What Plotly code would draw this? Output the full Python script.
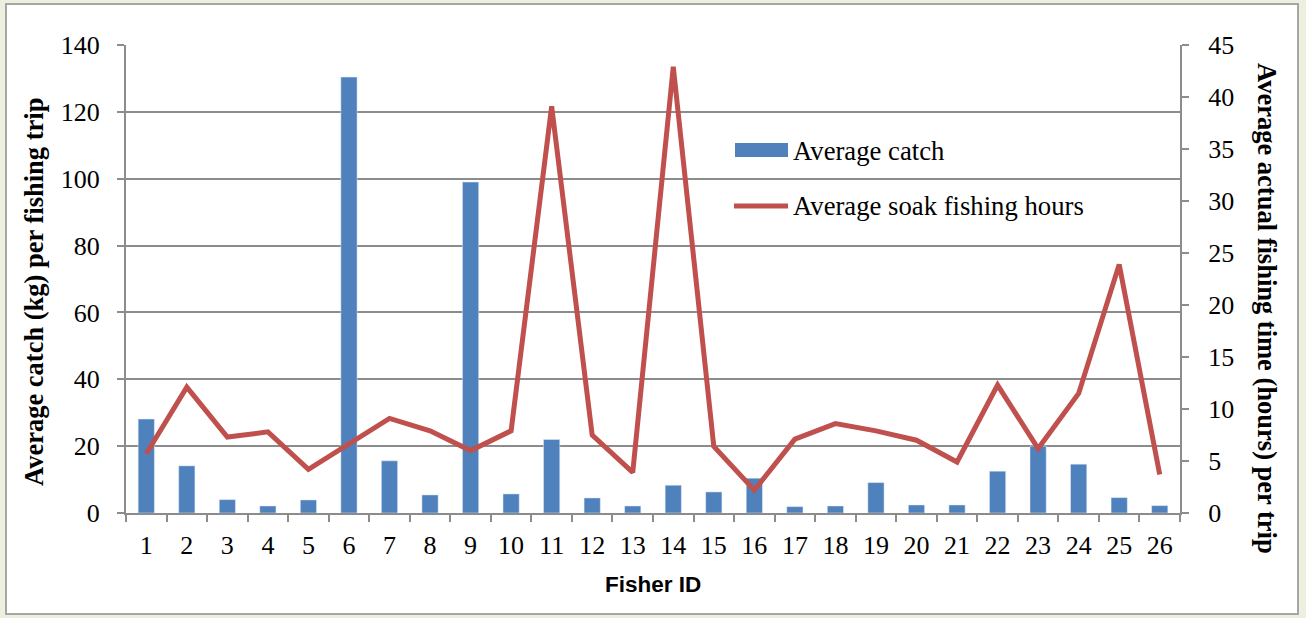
import plotly.graph_objects as go

fisher_ids = [str(i) for i in range(1, 27)]
avg_catch = [28.1, 14.1, 4.0, 2.1, 3.9, 130.4, 15.6, 5.4, 99.0, 5.7,
             22.0, 4.5, 2.1, 8.3, 6.3, 10.4, 1.9, 2.1, 9.1, 2.4,
             2.4, 12.5, 20.0, 14.6, 4.6, 2.2]
avg_hours = [5.7, 12.1, 7.3, 7.8, 4.2, 6.6, 9.1, 7.9, 6.0, 7.9,
             39.1, 7.5, 3.9, 42.9, 6.4, 2.2, 7.1, 8.6, 7.9, 7.0,
             4.9, 12.3, 6.2, 11.5, 23.9, 3.7]
left_ticks = [0, 20, 40, 60, 80, 100, 120, 140]
right_ticks = [0, 5, 10, 15, 20, 25, 30, 35, 40, 45]

W, H = 1306, 618
L, R, T, B = 126, 1180, 45, 513
pw, ph = R - L, B - T

def px(x):
    return (x - L) / pw

def py(y):
    return (B - y) / ph

serif = "Liberation Serif, Times New Roman, serif"
grey = "#8c8c8c"
bar_color = "#4F81BD"
line_color = "#C0504D"

fig = go.Figure()
fig.add_trace(go.Bar(x=fisher_ids, y=avg_catch, name="Average catch",
                     marker=dict(color=bar_color), yaxis="y"))
fig.add_trace(go.Scatter(x=fisher_ids, y=avg_hours, name="Average soak fishing hours",
                         mode="lines", line=dict(color=line_color, width=5),
                         yaxis="y2"))

axis_common = dict(showline=True, linecolor=grey, linewidth=2, ticks="outside",
                   ticklen=7, tickcolor=grey, tickwidth=2, zeroline=False,
                   tickfont=dict(family=serif, size=26))

fig.update_layout(
    width=W, height=H,
    margin=dict(l=L, r=W - R, t=T, b=H - B, pad=0),
    paper_bgcolor="#EBF1DE",
    plot_bgcolor="white",
    bargap=0.6,
    font=dict(family=serif, size=24, color="black"),
    showlegend=False,
    xaxis=dict(type="category", tickson="boundaries", showgrid=False,
               ticklabelstandoff=8, **axis_common),
    yaxis=dict(range=[0, 140], tickvals=left_ticks, showgrid=True,
               gridcolor=grey, gridwidth=2, ticklabelstandoff=12,
               **axis_common),
    yaxis2=dict(range=[0, 45], tickvals=right_ticks, overlaying="y",
                side="right", showgrid=False, ticklabelstandoff=14,
                **axis_common),
    shapes=[
        dict(type="rect", xref="paper", yref="paper",
             x0=px(6), x1=px(1298), y0=py(614), y1=py(4),
             fillcolor="white", line=dict(color="#a6a6a6", width=2),
             layer="below"),
        # legend keys
        dict(type="rect", xref="paper", yref="paper",
             x0=px(735), x1=px(788), y0=py(157), y1=py(143),
             fillcolor=bar_color, line=dict(width=0)),
        dict(type="line", xref="paper", yref="paper",
             x0=px(734), x1=px(788), y0=py(206), y1=py(206),
             line=dict(color=line_color, width=5)),
    ],
    annotations=[
        dict(text="Average catch", xref="paper", yref="paper",
             x=px(791), y=py(151), xanchor="left", yanchor="middle",
             showarrow=False, font=dict(family=serif, size=26.7)),
        dict(text="Average soak fishing hours", xref="paper", yref="paper",
             x=px(791), y=py(206), xanchor="left", yanchor="middle",
             showarrow=False, font=dict(family=serif, size=26.7)),
        dict(text="<b>Average catch (kg) per fishing trip</b>", xref="paper",
             yref="paper", x=px(34), y=py(292), xanchor="center",
             yanchor="middle", textangle=-90, showarrow=False,
             font=dict(family=serif, size=26.5)),
        dict(text="<b>Average actual fishing time (hours) per trip</b>",
             xref="paper", yref="paper", x=px(1267), y=py(308),
             xanchor="center", yanchor="middle", textangle=90,
             showarrow=False, font=dict(family=serif, size=26.5)),
        dict(text="<b>Fisher ID</b>", xref="paper", yref="paper",
             x=px(653), y=py(584), xanchor="center", yanchor="middle",
             showarrow=False,
             font=dict(family="Liberation Sans, Arial, sans-serif", size=22.5)),
    ],
)

fig.write_html("out.html", config={"displayModeBar": False},
               post_script="document.body.style.margin='0';"
                           "document.body.style.overflow='hidden';")
